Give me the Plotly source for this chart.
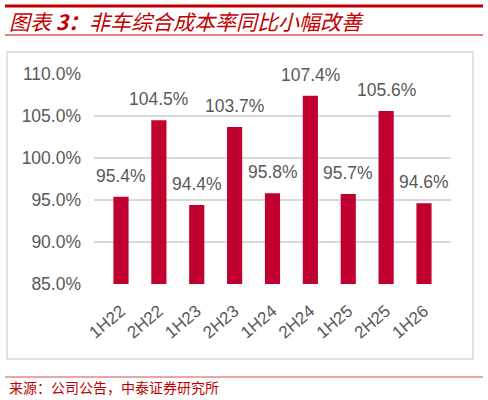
import plotly.graph_objects as go

# data
periods = ["1H22", "2H22", "1H23", "2H23", "1H24", "2H24", "1H25", "2H25", "1H26"]
combined_ratio = [95.4, 104.5, 94.4, 103.7, 95.8, 107.4, 95.7, 105.6, 94.6]
y_ticks = [85, 90, 95, 100, 105, 110]

title_text = "<i>图表 <b>3：</b>非车综合成本率同比小幅改善</i>"
source_text = "来源：公司公告，中泰证券研究所"

W, H = 488, 400
L, R, T, B = 94, 451, 74, 284   # plot area in pixels

def px(x):
    return (x - L) / (R - L)

def py(y):
    return (B - y) / (B - T)

red = "#C00000"
bar_red = "#C0002F"
gray_txt = "#595959"
grid = "#D9D9D9"
num_font = "Liberation Sans, Arial, sans-serif"
cjk_font = "Noto Sans CJK SC, sans-serif"

fig = go.Figure()
fig.add_trace(go.Bar(x=periods, y=combined_ratio, width=0.4,
                     marker=dict(color=bar_red, line=dict(width=0)),
                     hoverinfo="x+y"))

# value labels sitting a bit above each bar
for p, v in zip(periods, combined_ratio):
    fig.add_annotation(x=p, y=v, text=f"{v:.1f}%", showarrow=False,
                       yanchor="bottom", yshift=9,
                       font=dict(family=num_font, size=17.5, color=gray_txt))

# frame around chart + red rules
fig.add_shape(type="rect", xref="paper", yref="paper",
              x0=px(7), x1=px(473), y0=py(52), y1=py(359),
              line=dict(color=grid, width=1.5), layer="below")
fig.add_shape(type="line", xref="paper", yref="paper",
              x0=px(5), x1=px(483), y0=py(6), y1=py(6),
              line=dict(color=red, width=3))
fig.add_shape(type="line", xref="paper", yref="paper",
              x0=px(5), x1=px(483), y0=py(35), y1=py(35),
              line=dict(color=red, width=1))
fig.add_shape(type="line", xref="paper", yref="paper",
              x0=px(5), x1=px(483), y0=py(377), y1=py(377),
              line=dict(color="#D84A4A", width=1))

fig.add_annotation(xref="paper", yref="paper", x=px(7), y=py(21),
                   xanchor="left", yanchor="middle", showarrow=False,
                   text=title_text, font=dict(family=cjk_font, size=21, color=red))
fig.add_annotation(xref="paper", yref="paper", x=px(7), y=py(387),
                   xanchor="left", yanchor="middle", showarrow=False,
                   text=source_text, font=dict(family=cjk_font, size=14, color=red))

fig.update_layout(
    width=W, height=H,
    margin=dict(l=L, r=W - R, t=T, b=H - B, pad=0),
    paper_bgcolor="white", plot_bgcolor="white",
    showlegend=False,
)
fig.update_xaxes(tickangle=-40, showgrid=False, showline=False, ticks="",
                 tickfont=dict(family=num_font, size=17, color=gray_txt),
                 ticklabelstandoff=13)
fig.update_yaxes(range=[85, 110], tickmode="array", tickvals=y_ticks,
                 ticktext=[f"{t:.1f}%" for t in y_ticks],
                 showgrid=True, gridcolor=grid, gridwidth=1.5, zeroline=False,
                 showline=False, ticks="",
                 tickfont=dict(family=num_font, size=17.5, color=gray_txt),
                 ticklabelstandoff=12)

fig.write_html("out.html", config={"displayModeBar": False},
               post_script="document.body.style.margin='0';")
